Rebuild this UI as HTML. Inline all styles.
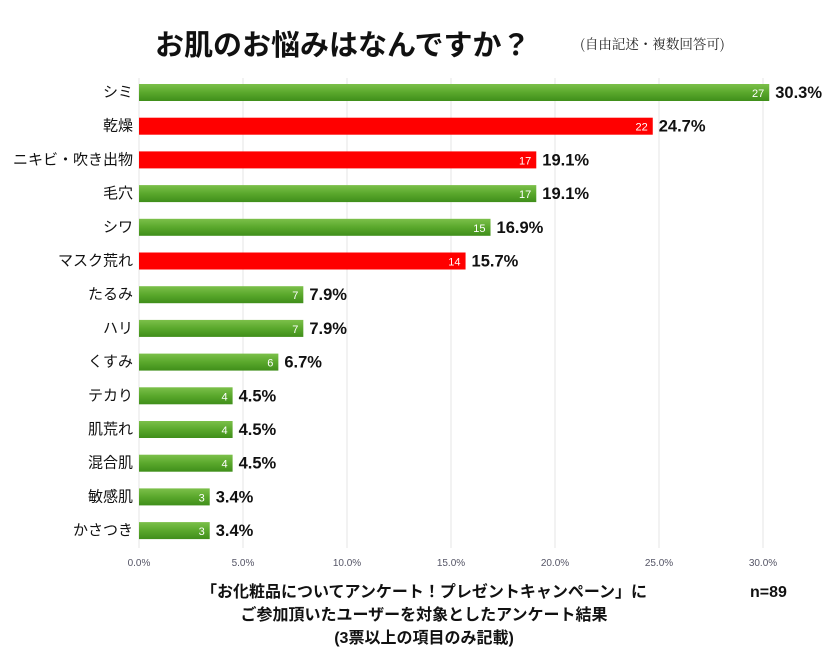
<!DOCTYPE html>
<html><head><meta charset="utf-8"><style>
body{margin:0;background:#fff;font-family:"Liberation Sans","Noto Sans CJK JP",sans-serif;}
#wrap{position:relative;width:840px;height:653px;overflow:hidden;}
</style></head><body>
<div id="wrap">
<svg id="chart" width="840" height="653">
<defs><linearGradient id="g" x1="0" y1="0" x2="0" y2="1"><stop offset="0" stop-color="#7cc04a"/><stop offset="0.5" stop-color="#5aa82c"/><stop offset="1" stop-color="#3f8e1a"/></linearGradient></defs>
<text x="155" y="55" font-size="29" font-weight="bold" fill="#111">お肌のお悩みはなんですか？</text>
<text x="580" y="49" font-size="13.5" fill="#222" font-family="'Noto Serif CJK SC',serif">(自由記述・複数回答可)</text>
<g id="grid"></g><g id="bars"></g>
<text x="424" y="597" font-size="16" font-weight="bold" text-anchor="middle" fill="#111">「お化粧品についてアンケート！プレゼントキャンペーン」に</text>
<text x="424" y="620" font-size="16" font-weight="bold" text-anchor="middle" fill="#111">ご参加頂いたユーザーを対象としたアンケート結果</text>
<text x="424" y="643" font-size="16" font-weight="bold" text-anchor="middle" fill="#111">(3票以上の項目のみ記載)</text>
<text x="750" y="597" font-size="16" font-weight="bold" fill="#111">n=89</text>
</svg></div>
<script>
const categories=["シミ","乾燥","ニキビ・吹き出物","毛穴","シワ","マスク荒れ","たるみ","ハリ","くすみ","テカり","肌荒れ","混合肌","敏感肌","かさつき"];
const counts=[27,22,17,17,15,14,7,7,6,4,4,4,3,3];
const percents=[30.3,24.7,19.1,19.1,16.9,15.7,7.9,7.9,6.7,4.5,4.5,4.5,3.4,3.4];
const highlight=[0,1,1,0,0,1,0,0,0,0,0,0,0,0];
const ticks=[0,5,10,15,20,25,30];
const NS="http://www.w3.org/2000/svg";
const x=v=>139+v*20.8;
const y=i=>92+i*33.7;
function mk(t,a,p){const e=document.createElementNS(NS,t);for(const k in a)e.setAttribute(k,a[k]);p.appendChild(e);return e;}
const grid=document.getElementById('grid'),bars=document.getElementById('bars');
ticks.forEach(t=>{
 const l=mk('line',{x1:x(t),x2:x(t),y1:78,y2:548,stroke:'#e4e4e4','stroke-width':1},grid);
 
 
 const tx=mk('text',{x:x(t),y:566,'font-size':10,'text-anchor':'middle',fill:'#556'},grid);
 tx.textContent=t.toFixed(1)+'%';
 
 
});
categories.forEach((c,i)=>{
 const cy=y(i);
 const lb=mk('text',{x:133,y:cy+5,'font-size':15,'text-anchor':'end',fill:'#111'},bars);
 lb.textContent=c;
 
 
 const r=mk('rect',{x:x(0),y:cy-8,width:x(percents[i])-x(0),height:17,fill:highlight[i]?'#ff0000':'url(#g)'},bars);
 
 
 const n=mk('text',{x:x(percents[i])-5,y:cy+5,'font-size':11,'text-anchor':'end',fill:'#fff'},bars);
 n.textContent=counts[i];
 
 
 const p=mk('text',{x:x(percents[i])+6,y:cy+6,'font-size':16.5,'font-weight':'bold',fill:'#111'},bars);
 p.textContent=percents[i].toFixed(1)+'%';
 
 
});
</script>
</body></html>
